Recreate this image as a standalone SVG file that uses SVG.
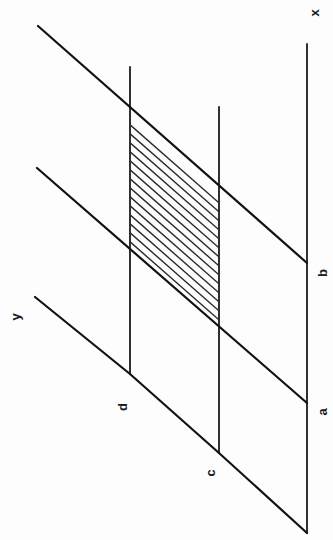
<svg xmlns="http://www.w3.org/2000/svg" width="333" height="540" viewBox="0 0 333 540">
<style>
.ax{stroke:#1a1a1a;stroke-width:1.8;fill:none;stroke-linecap:round}
.dg{stroke:#111;stroke-width:2.2;fill:none;stroke-linecap:round}
.h{stroke:#2a2a2a;stroke-width:1.4}
.lb{font-family:"Liberation Sans",Arial,sans-serif;font-size:13px;font-weight:bold;fill:#1a1a1a;text-anchor:middle;dominant-baseline:central}
</style>
<defs>
<clipPath id="pg"><polygon points="130,107 219,185.5 219,326.4 130,249"/></clipPath>
</defs>
<rect width="333" height="540" fill="#fdfdfd"/>
<g id="connectors">
<line class="ax" x1="307" y1="44" x2="307" y2="533"/>
<line class="ax" x1="219" y1="107" x2="219" y2="453"/>
<line class="ax" x1="130" y1="67" x2="130" y2="374"/>
<line class="dg" x1="38" y1="26" x2="307" y2="263"/>
<line class="dg" x1="37" y1="168" x2="307" y2="403"/>
<path class="dg" d="M35,297 L130,374 L219,453 L307,533"/>
</g>
<g id="hatch" clip-path="url(#pg)">
<line class="h" x1="120" y1="107" x2="230" y2="203.6" transform="translate(0,9)"/>
<line class="h" x1="120" y1="107" x2="230" y2="203.6" transform="translate(0,18)"/>
<line class="h" x1="120" y1="107" x2="230" y2="203.6" transform="translate(0,27)"/>
<line class="h" x1="120" y1="107" x2="230" y2="203.6" transform="translate(0,36)"/>
<line class="h" x1="120" y1="107" x2="230" y2="203.6" transform="translate(0,45)"/>
<line class="h" x1="120" y1="107" x2="230" y2="203.6" transform="translate(0,54)"/>
<line class="h" x1="120" y1="107" x2="230" y2="203.6" transform="translate(0,63)"/>
<line class="h" x1="120" y1="107" x2="230" y2="203.6" transform="translate(0,72)"/>
<line class="h" x1="120" y1="107" x2="230" y2="203.6" transform="translate(0,81)"/>
<line class="h" x1="120" y1="107" x2="230" y2="203.6" transform="translate(0,90)"/>
<line class="h" x1="120" y1="107" x2="230" y2="203.6" transform="translate(0,99)"/>
<line class="h" x1="120" y1="107" x2="230" y2="203.6" transform="translate(0,108)"/>
<line class="h" x1="120" y1="107" x2="230" y2="203.6" transform="translate(0,117)"/>
<line class="h" x1="120" y1="107" x2="230" y2="203.6" transform="translate(0,126)"/>
<line class="h" x1="120" y1="107" x2="230" y2="203.6" transform="translate(0,135)"/>
</g>
<g id="label-x"><text class="lb" transform="translate(314,13) rotate(-90)">x</text></g>
<g id="label-y"><text class="lb" transform="translate(15,317) rotate(-90)">y</text></g>
<g id="label-b"><text class="lb" transform="translate(322,273) rotate(-90)">b</text></g>
<g id="label-a"><text class="lb" transform="translate(322,412) rotate(-90)">a</text></g>
<g id="label-d"><text class="lb" transform="translate(122,407) rotate(-90)">d</text></g>
<g id="label-c"><text class="lb" transform="translate(210,473) rotate(-90)">c</text></g>
</svg>
